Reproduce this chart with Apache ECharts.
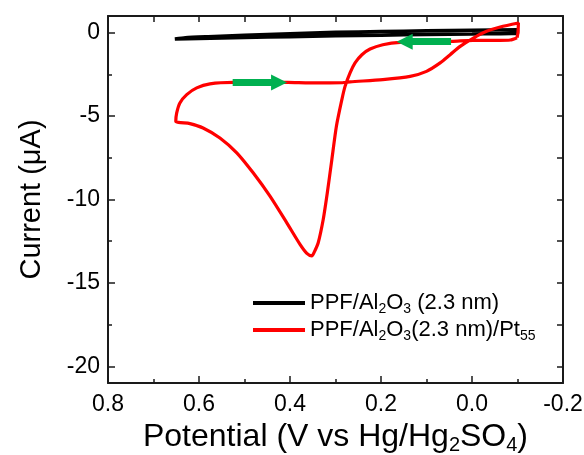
<!DOCTYPE html>
<html>
<head>
<meta charset="utf-8">
<script src="https://cdn.jsdelivr.net/npm/echarts@6/dist/echarts.min.js"></script>
<style>
html,body{margin:0;padding:0;background:#fff;}
#c{width:584px;height:455px;}
</style>
</head>
<body>
<div id="c"></div>
<script>
// ---- data ----
const seriesNames = ['PPF/Al2O3 (2.3 nm)', 'PPF/Al2O3(2.3 nm)/Pt55'];
const blackCurve = [
  [-0.100, 0.17], [0.00, 0.14], [0.10, 0.11], [0.20, 0.07], [0.30, 0.02], [0.40, -0.06],
  [0.50, -0.16], [0.58, -0.24], [0.63, -0.30], [0.653, -0.38],
  [0.60, -0.35], [0.50, -0.29], [0.40, -0.24], [0.30, -0.19], [0.20, -0.15], [0.10, -0.11],
  [0.00, -0.08], [-0.05, -0.06], [-0.100, -0.03], [-0.100, 0.17]
];
const redCurve = [
  [-0.099, -0.30], [-0.084, -0.44], [-0.062, -0.46], [-0.002, -0.46], [0.045, -0.52],
  [0.158, -0.58], [0.196, -0.72], [0.224, -0.98], [0.242, -1.32], [0.257, -1.81],
  [0.268, -2.41], [0.279, -3.22], [0.286, -4.01], [0.298, -5.61], [0.308, -7.60],
  [0.318, -9.60], [0.327, -11.20], [0.338, -12.59], [0.347, -13.17], [0.352, -13.38],
  [0.363, -13.23], [0.378, -12.69], [0.407, -11.40], [0.444, -9.80], [0.481, -8.40],
  [0.517, -7.20], [0.554, -6.31], [0.591, -5.71], [0.620, -5.45], [0.651, -5.31],
  [0.649, -4.81], [0.642, -4.21], [0.627, -3.71], [0.605, -3.31], [0.576, -3.07],
  [0.525, -2.98], [0.405, -2.98], [0.357, -3.01], [0.285, -3.00], [0.268, -2.95],
  [0.196, -2.81], [0.136, -2.62], [0.100, -2.32], [0.070, -1.81], [0.048, -1.32],
  [0.026, -0.82], [-0.003, -0.32], [-0.032, 0.08], [-0.062, 0.34], [-0.102, 0.58],
  [-0.101, 0.00], [-0.099, -0.30]
];
const arrowRight = [[0.526, -2.98], [0.424, -2.98]];
const arrowLeft = [[0.046, -0.54], [0.148, -0.54]];
const xTickLabels = [0.8, 0.6, 0.4, 0.2, 0.0, -0.2];
const xMinorTicks = [0.7, 0.5, 0.3, 0.1, -0.1];
const xTopTicks = [0.8, 0.7, 0.6, 0.5, 0.4, 0.3, 0.2, 0.1, 0.0, -0.1, -0.2];
const yTickLabels = [0, -5, -10, -15, -20];
const yMinorTicks = [-2.5, -7.5, -12.5, -17.5];
const yRightTicks = [0, -2.5, -5, -7.5, -10, -12.5, -15, -17.5, -20];
const xRange = [-0.2, 0.8];
const yRange = [-21, 1];

// ---- chart ----
const FONT = '"Liberation Sans", Arial, sans-serif';
const AX = '#1a1a1a';
const richMain = (fs, lh) => ({
  a: {fontSize: fs, fontFamily: FONT, color: '#000', lineHeight: lh},
  s: {fontSize: Math.round(fs * 0.62), fontFamily: FONT, color: '#000', lineHeight: Math.round(fs * 0.62), verticalAlign: 'bottom'}
});
const legendRich = {
  [seriesNames[0]]: '{a|PPF/Al}{s|2}{a|O}{s|3}{a| (2.3 nm)}',
  [seriesNames[1]]: '{a|PPF/Al}{s|2}{a|O}{s|3}{a|(2.3 nm)/Pt}{s|55}'
};
const baseX = {
  type: 'value', min: xRange[0], max: xRange[1], inverse: true,
  splitLine: {show: false}, nameMoveOverlap: false
};
const baseY = {
  type: 'value', min: yRange[0], max: yRange[1],
  splitLine: {show: false}, nameMoveOverlap: false
};

const chart = echarts.init(document.getElementById('c'), null, {renderer: 'canvas'});
chart.setOption({
  animation: false,
  backgroundColor: '#fff',
  grid: {left: 108, right: 21, top: 16, bottom: 72, outerBoundsMode: 'none'},
  legend: {
    orient: 'vertical', left: 253, top: 292, padding: 0, itemGap: 3,
    itemWidth: 52, itemHeight: 4, icon: 'rect',
    data: seriesNames,
    formatter: n => legendRich[n],
    textStyle: {rich: richMain(22, 26)}
  },
  xAxis: [
    Object.assign({}, baseX, {
      position: 'bottom',
      axisLine: {show: true, onZero: false, lineStyle: {color: AX, width: 2}},
      axisTick: {show: true, inside: true, length: 7, customValues: xTickLabels, lineStyle: {color: AX, width: 1.5}},
      axisLabel: {show: true, customValues: xTickLabels, margin: 10, formatter: v => v.toFixed(1),
        fontSize: 23, fontFamily: FONT, color: '#000'},
      name: '{a|Potential (V vs Hg/Hg}{s|2}{a|SO}{s|4}{a|)}',
      nameLocation: 'middle', nameGap: 36,
      nameTextStyle: {rich: richMain(32, 36)}
    }),
    Object.assign({}, baseX, {
      position: 'bottom',
      axisLine: {show: false, onZero: false},
      axisTick: {show: true, inside: true, length: 4, customValues: xMinorTicks, lineStyle: {color: AX, width: 1.5}},
      axisLabel: {show: false}
    }),
    Object.assign({}, baseX, {
      position: 'top',
      axisLine: {show: true, onZero: false, lineStyle: {color: AX, width: 2}},
      axisTick: {show: true, inside: true, length: 6, customValues: xTopTicks, lineStyle: {color: AX, width: 1.5}},
      axisLabel: {show: false}
    })
  ],
  yAxis: [
    Object.assign({}, baseY, {
      position: 'left',
      axisLine: {show: true, onZero: false, lineStyle: {color: AX, width: 2}},
      axisTick: {show: true, inside: true, length: 7, customValues: yTickLabels, lineStyle: {color: AX, width: 1.5}},
      axisLabel: {show: true, customValues: yTickLabels, margin: 8,
        fontSize: 23, fontFamily: FONT, color: '#000'},
      name: 'Current (μA)',
      nameLocation: 'middle', nameGap: 62,
      nameTextStyle: {fontSize: 29, fontFamily: FONT, color: '#000'}
    }),
    Object.assign({}, baseY, {
      position: 'left',
      axisLine: {show: false, onZero: false},
      axisTick: {show: true, inside: true, length: 4, customValues: yMinorTicks, lineStyle: {color: AX, width: 1.5}},
      axisLabel: {show: false}
    }),
    Object.assign({}, baseY, {
      position: 'right',
      axisLine: {show: true, onZero: false, lineStyle: {color: AX, width: 2}},
      axisTick: {show: true, inside: true, length: 6, customValues: yRightTicks, lineStyle: {color: AX, width: 1.5}},
      axisLabel: {show: false}
    })
  ],
  series: [
    {
      name: seriesNames[0], type: 'line', data: blackCurve, xAxisIndex: 0, yAxisIndex: 0,
      showSymbol: false, smooth: 0.2, color: '#000',
      lineStyle: {color: '#000', width: 3.5}
    },
    {
      name: seriesNames[1], type: 'line', data: redCurve, xAxisIndex: 0, yAxisIndex: 0,
      showSymbol: false, smooth: 0.25, color: '#ff0000',
      lineStyle: {color: '#ff0000', width: 3.2}
    },
    {
      type: 'lines', coordinateSystem: 'cartesian2d', xAxisIndex: 0, yAxisIndex: 0,
      symbol: ['none', 'triangle'], symbolSize: [17, 16],
      lineStyle: {color: '#00b050', width: 7, opacity: 1, curveness: 0},
      itemStyle: {color: '#00b050'},
      data: [{coords: arrowRight}, {coords: arrowLeft}],
      z: 5
    }
  ]
});
</script>
</body>
</html>
